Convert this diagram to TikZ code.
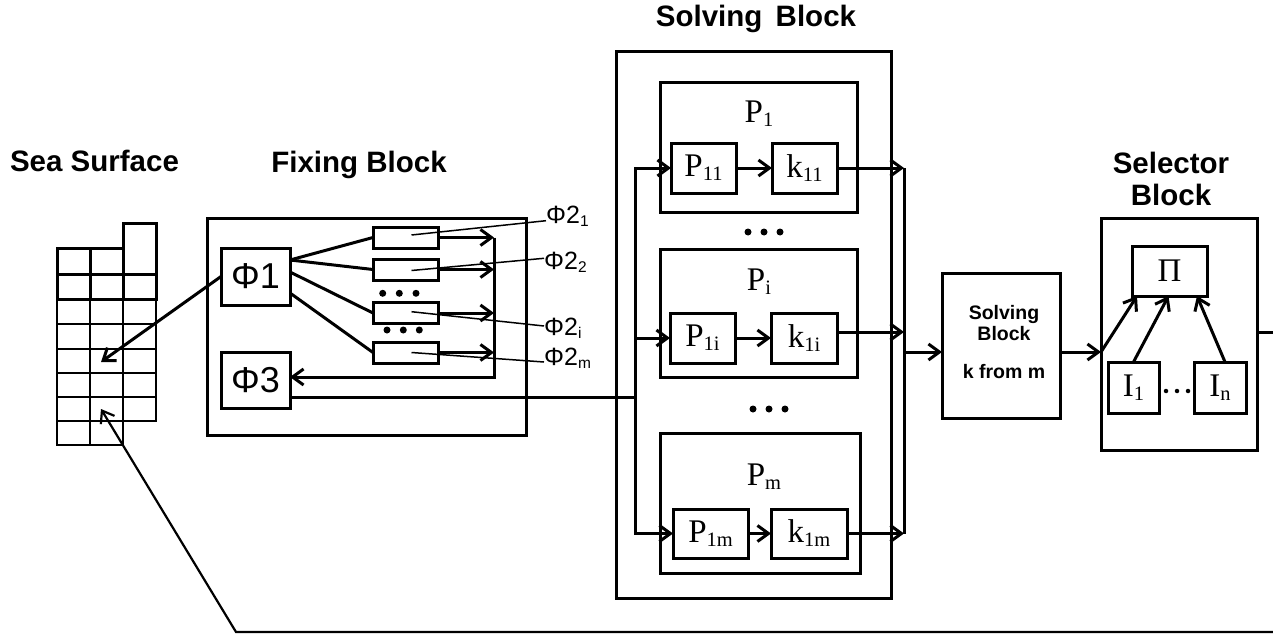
\documentclass[tikz,border=0pt]{standalone}
\usepackage{fontspec}
\setmainfont{Liberation Serif}
\setsansfont{Liberation Sans}
\usepackage{graphicx}
\usetikzlibrary{arrows.meta,calc}
\newcommand\sbx[1]{\raisebox{-0.12em}{\scalebox{0.62}{#1}}}
\begin{document}
\begin{tikzpicture}[x=1pt,y=-1pt,
  lw/.style={line width=3pt},
  box/.style={draw, lw, rectangle, inner sep=0pt, outer sep=0pt},
  arr/.style={lw, -{Straight Barb[length=11pt,width=16pt]}},
  thinl/.style={line width=1.5pt},
  ttl/.style={font=\sffamily\bfseries\fontsize{29.5}{32}\selectfont, inner sep=0pt},
  phibig/.style={font=\sffamily\fontsize{36}{38}\selectfont},
  phismall/.style={font=\sffamily\fontsize{25}{28}\selectfont, inner sep=0pt, anchor=west},
  pl/.style={font=\rmfamily\fontsize{33}{35}\selectfont, inner sep=0pt},
  dot/.style={fill, circle, inner sep=0pt, minimum size=7pt},
]
\useasboundingbox (0,0) rectangle (1273,634);

% ---- Sea surface grid
\draw[lw, line cap=rect] (57,248) -- (123,248) (123,223) -- (156,223)
  (57,274) -- (156,274) (57,299) -- (156,299)
  (57,248) -- (57,299) (90,248) -- (90,299) (123,223) -- (123,299) (156,223) -- (156,299);
\draw[thinl] (57,299) -- (57,445) -- (123,445) (90,299) -- (90,445)
  (123,299) -- (123,445) (156,299) -- (156,421) -- (123,421);
\foreach \yy in {324,349,373,397,421} \draw[thinl] (57,\yy) -- (156,\yy);
\coordinate (sea1) at (101,362);
\coordinate (sea2) at (101,409);

% ---- titles
\node[ttl, anchor=base] (tsea) at (94.5,171.7) {Sea Surface};
\node[ttl, anchor=base] (tfix) at (359,172) {Fixing Block};
\node[ttl, anchor=base] (tsolve) at (756,27) {Solving\hspace{0.45em}Block};
\node[ttl, align=center] (tsel) at (1171,179) {Selector\\Block};

% ---- Fixing block
\node[box, minimum width=319pt, minimum height=217pt] (fix) at (366.5,326.5) {};
\node[box, phibig, minimum width=69pt, minimum height=57pt] (phi1) at (255.5,276.5) {Φ1};
\node[box, phibig, minimum width=69pt, minimum height=56pt] (phi3) at (255.5,380) {Φ3};
\foreach \n/\yy in {1/237.5,2/269.5,3/313,4/352.5}
  \node[box, minimum width=65pt, minimum height=21pt] (f\n) at (405.5,\yy) {};
\coordinate (fbus) at (494,377);
\foreach \n in {1,...,4} \draw[arr] (f\n.east) -- (f\n.east -| fbus);
\draw[arr] (f1.east -| fbus) -- (fbus) -- (fbus -| phi3.east);
\draw[lw] ([yshift=16.5pt]phi1.east) -- (f1.west);
\draw[lw] ([yshift=16.5pt]phi1.east) -- (f2.west);
\draw[lw] ([yshift=4.5pt]phi1.east) -- (f3.west);
\draw[lw] ([yshift=-16.5pt]phi1.east) -- (f4.west);
\foreach \xx [count=\i] in {382.7,399.3,416} \node[dot] (da\i) at (\xx,293.3) {};
\foreach \xx [count=\i] in {387,403.3,419.3} \node[dot] (db\i) at (\xx,330) {};

\node[phismall] (l1) at (546,216) {Φ2\sbx{1}};
\node[phismall] (l2) at (544,262) {Φ2\sbx{2}};
\node[phismall] (l3) at (544,328) {Φ2\sbx{i}};
\node[phismall] (l4) at (544,358) {Φ2\sbx{m}};
\draw[thinl] ([xshift=6pt,yshift=2.5pt]f1.center) -- ([yshift=-4.7pt]l1.west);
\draw[thinl] ([xshift=6pt,yshift=-1pt]f2.center) -- ([yshift=3.7pt]l2.west);
\draw[thinl] ([xshift=6pt,yshift=1.3pt]f3.center) -- ([yshift=2pt]l3.west);
\draw[thinl] ([xshift=6pt]f4.center) -- ([yshift=-4pt]l4.west);

\draw[arr] (phi1.west) -- (sea1);
\coordinate (ibus) at (635,397);
\draw[lw] ([yshift=-17pt]phi3.east) -- (ibus);

% ---- Solving block
\node[box, minimum width=275pt, minimum height=546pt] (solve) at (753.5,325) {};
\node[box, minimum width=197pt, minimum height=130pt] (p1) at (758.5,147) {};
\node[box, minimum width=197pt, minimum height=128pt] (pi) at (758.5,313) {};
\node[box, minimum width=200pt, minimum height=140pt] (pm) at (760,503) {};
\node[pl] (p1l) at (759,114) {P\sbx{1}};
\node[pl] (pil) at (759,282) {P\sbx{i}};
\node[pl] (pml) at (764,477) {P\sbx{m}};
\node[box, pl, minimum width=65pt, minimum height=50pt] (p11) at (703.5,168) {P\sbx{11}};
\node[box, pl, minimum width=65pt, minimum height=50pt] (k11) at (804.5,168) {k\sbx{11}};
\node[box, pl, minimum width=65pt, minimum height=50pt] (p1i) at (702.5,338) {P\sbx{1i}};
\node[box, pl, minimum width=66pt, minimum height=50pt] (k1i) at (804,338) {k\sbx{1i}};
\node[box, pl, minimum width=75pt, minimum height=49pt] (p1m) at (710.5,533.5) {P\sbx{1m}};
\node[box, pl, minimum width=76pt, minimum height=49pt] (k1m) at (809,533.5) {k\sbx{1m}};
\foreach \xx [count=\i] in {748,764,780} \node[dot] (dc\i) at (\xx,232) {};
\foreach \xx [count=\i] in {753,769,785} \node[dot] (dd\i) at (\xx,409) {};

\draw[arr] (ibus) -- (ibus |- p11.west) -- (p11.west);
\draw[arr] (ibus |- p1i.west) -- (p1i.west);
\draw[arr] (ibus) -- (ibus |- p1m.west) -- (p1m.west);
\draw[arr] (p11) -- (k11);
\draw[arr] (p1i) -- (k1i);
\draw[arr] (p1m) -- (k1m);

\coordinate (obus) at (904,352);
\coordinate (k1io) at ([yshift=6pt]k1i.east);
\draw[arr] (k11.east) -- (k11.east -| obus);
\draw[arr] (k1io) -- (k1io -| obus);
\draw[arr] (k1m.east) -- (k1m.east -| obus);
\draw[lw] (k11.east -| obus) -- (k1m.east -| obus);

% ---- k from m block
\node[box, minimum width=118pt, minimum height=145pt] (kfm) at (1001,345.5) {};
\node[font=\sffamily\bfseries\fontsize{19.5}{21}\selectfont, align=center, inner sep=0pt] (kfmt) at (1004,342) {Solving\\Block\\[17pt]k from m};
\draw[arr] (obus) -- (obus -| kfm.west);

% ---- Selector block
\coordinate (selin) at (1101,352);
\node[box, minimum width=156pt, minimum height=232pt] (sel) at (1179,334) {};
\draw[arr] (kfm.east |- selin) -- (selin);
\node[box, pl, minimum width=75pt, minimum height=50pt] (pibox) at (1169.5,271) {Π};
\node[box, pl, minimum width=51pt, minimum height=51pt] (i1) at (1133.5,387.5) {I\sbx{1}};
\node[box, pl, minimum width=52pt, minimum height=51pt] (iN) at (1220,387.5) {I\sbx{n}};
\foreach \xx [count=\i] in {1166,1177,1188} \node[dot, minimum size=4.5pt] (de\i) at (\xx,391) {};
\draw[arr] (selin) -- ([xshift=5pt]pibox.south west);
\draw[arr] (i1.north) -- ([xshift=-1pt]pibox.south);
\draw[arr] ([xshift=5pt]iN.north) -- ([xshift=-10pt]pibox.south east);
\coordinate (selout) at (1273,332);
\draw[lw] (sel.east |- selout) -- (selout);

% ---- feedback
\coordinate (fbR) at (1273,632);
\coordinate (fbL) at (236,632);
\draw[arr, line width=2.2pt] (fbR) -- (fbL) -- (sea2);
\end{tikzpicture}
\end{document}
